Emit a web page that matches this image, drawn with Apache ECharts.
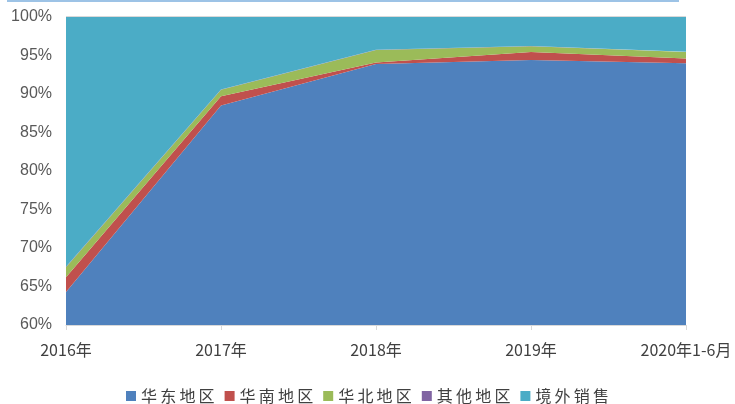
<!DOCTYPE html>
<html>
<head>
    <meta charset="utf-8">
    <title>ECharts</title>
    <script src="https://cdn.jsdelivr.net/npm/echarts@6/dist/echarts.min.js"></script>
</head>
<body style="margin:0">
<div id="main" style="width: 735px;height:404px;"></div>
<script type="text/javascript">
    // 数据
    var categories = ['2016年', '2017年', '2018年', '2019年', '2020年1-6月'];
    var huadong = [64.3, 88.5, 93.9, 94.4, 94.0];
    var huanan = [1.9, 1.2, 0.2, 1.05, 0.6];
    var huabei = [1.3, 0.85, 1.6, 0.75, 0.85];
    var qita = [0.05, 0.05, 0.05, 0.05, 0.05];
    var jingwai = [32.45, 9.4, 4.25, 3.75, 4.5];
    var yTicks = [60, 65, 70, 75, 80, 85, 90, 95, 100];

    var colors = ['#4F81BD', '#C0504D', '#9BBB59', '#8064A2', '#4BACC6'];
    var names = ['华东地区', '华南地区', '华北地区', '其他地区', '境外销售'];
    var values = [huadong, huanan, huabei, qita, jingwai];

    var myChart = echarts.init(document.getElementById('main'));

    var series = names.map(function (n, i) {
        return {
            name: n,
            type: 'line',
            stack: 'total',
            symbol: 'none',
            lineStyle: { width: 0 },
            areaStyle: { color: colors[i], opacity: 1 },
            itemStyle: { color: colors[i] },
            data: values[i]
        };
    });

    var option = {
        animation: false,
        textStyle: { fontFamily: '"Noto Sans CJK SC", sans-serif' },
        graphic: [{
            type: 'rect',
            shape: { x: 7, y: 0, width: 672, height: 2 },
            style: { fill: '#9DC3E6' }
        }, {
            type: 'rect',
            shape: { x: 66, y: 16, width: 620, height: 1 },
            style: { fill: '#D9D9D9' },
            z: -1
        }],
        grid: { left: 66, right: 49, top: 17, bottom: 79 },
        legend: {
            bottom: -5,
            left: 'center',
            icon: 'rect',
            itemWidth: 10,
            itemHeight: 10,
            itemGap: 10,
            textStyle: { fontSize: 16, color: '#404040', fontFamily: '"Noto Sans CJK SC", sans-serif' },
            formatter: function (n) { return n.split('').join('\u2009'); },
            data: names
        },
        xAxis: {
            type: 'category',
            boundaryGap: false,
            data: categories,
            axisLine: { lineStyle: { color: '#D9D9D9' } },
            axisTick: { show: true, length: 5, lineStyle: { color: '#D9D9D9' } },
            axisLabel: { fontSize: 16, color: '#404040', margin: 17, interval: 0 }
        },
        yAxis: {
            type: 'value',
            min: yTicks[0],
            max: yTicks[yTicks.length - 1],
            interval: 5,
            axisLine: { show: true, lineStyle: { color: '#D9D9D9' } },
            splitLine: { show: false },
            axisLabel: { fontSize: 16, color: '#595959', margin: 14, formatter: '{value}%',
                fontFamily: 'Arial, "Liberation Sans", sans-serif' }
        },
        series: series
    };

    myChart.setOption(option);
</script>
</body>
</html>
